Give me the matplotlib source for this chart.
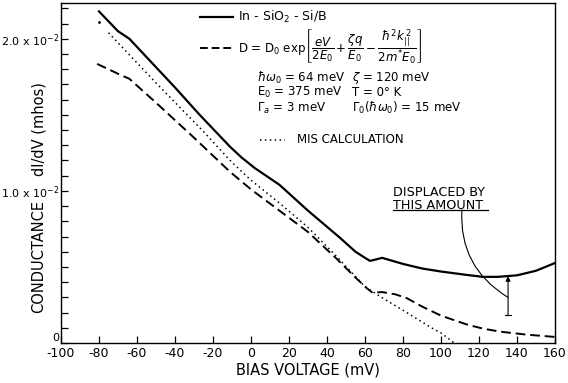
import matplotlib
matplotlib.use("Agg")
import matplotlib.pyplot as plt
from matplotlib.ticker import MultipleLocator

# ---- data (conductance in units of 1e-2 mhos) ----
v_meas = [-80, -75, -70, -64, -55, -40, -27, -11, -5, 2, 15, 30, 47, 55, 60, 62.6, 66, 69,
          80, 90, 100, 114, 122, 130, 140, 150, 160]
g_meas = [2.18, 2.115, 2.05, 2.00, 1.88, 1.68, 1.50, 1.29, 1.22, 1.15, 1.04, 0.87, 0.69, 0.60,
          0.56, 0.54, 0.55, 0.56, 0.52, 0.49, 0.47, 0.447, 0.435, 0.435, 0.445, 0.475, 0.526]

v_model = [-81, -75, -70, -64, -50, -30, -11, 0, 15, 30, 45, 55, 61, 64, 69, 76, 82, 90, 100,
           114, 122, 131, 145, 160]
g_model = [1.835, 1.80, 1.77, 1.737, 1.58, 1.35, 1.125, 1.01, 0.87, 0.73, 0.555, 0.43, 0.36,
           0.33, 0.335, 0.32, 0.295, 0.24, 0.18, 0.12, 0.095, 0.075, 0.055, 0.04]

v_mis = [-75, -50, -25, -11, 0, 15, 30, 45, 60, 70, 82, 95, 100, 107]
g_mis = [2.04, 1.71, 1.39, 1.20, 1.07, 0.92, 0.76, 0.57, 0.37, 0.29, 0.20, 0.10, 0.066, 0.0]
v_mis_dot = [-80]
g_mis_dot = [2.11]

x_ticks = list(range(-100, 161, 20))
y_ticks = [0, 1.0, 2.0]
y_ticklabels = ['0', r'1.0 x 10$^{-2}$', r'2.0 x 10$^{-2}$']

plt.rcParams['font.family'] = ['DejaVu Sans']
plt.rcParams['mathtext.fontset'] = 'dejavusans'

fig = plt.figure(figsize=(5.68, 3.83), dpi=100)
ax = fig.add_axes([0.1074, 0.1044, 0.8697, 0.8876])

ax.plot(v_meas, g_meas, color='black', lw=1.6, solid_joinstyle='round')
ax.plot(v_model, g_model, color='black', lw=1.4, dashes=(5, 2.5))
ax.plot(v_mis, g_mis, color='black', lw=1.1, linestyle=(0, (1, 2.2)))
ax.plot(v_mis_dot, g_mis_dot, 'k.', ms=2)

ax.set_xlim(-100, 160)
ax.set_ylim(0, 2.235)
ax.set_xticks(x_ticks)
ax.set_xticklabels([str(t) for t in x_ticks], fontsize=9)
ax.set_yticks(y_ticks)
ax.set_yticklabels(y_ticklabels, fontsize=8)
ax.yaxis.set_minor_locator(MultipleLocator(0.1))
ax.tick_params(axis='both', which='both', direction='in', length=5, width=0.9,
               top=False, right=False)
ax.tick_params(axis='x', pad=3)
ax.tick_params(axis='y', pad=1)
for s in ax.spines.values():
    s.set_linewidth(1.0)

# lift the "0" label a bit so it sits above the x tick labels
ax.get_yticklabels()[0].set_verticalalignment('bottom')

ax.set_xlabel('BIAS VOLTAGE (mV)', fontsize=10.5, labelpad=2)
ax.text(-0.045, 0.63, 'dI/dV (mhos)', transform=ax.transAxes, rotation=90,
        ha='center', va='center', fontsize=10.5)
ax.text(-0.045, 0.255, 'CONDUCTANCE', transform=ax.transAxes, rotation=90,
        ha='center', va='center', fontsize=10.5)

# ---- legend block ----
fs = 8.5
ax.plot([-26.8, -9.5], [2.145, 2.145], color='black', lw=1.6)
ax.text(-7, 2.145, r'In - SiO$_2$ - Si/B', fontsize=9, va='center')
ax.plot([-26.8, -9.5], [1.94, 1.94], color='black', lw=1.4, dashes=(4, 2))
ax.text(-7, 1.94,
        r'D = D$_0$ exp$\left[\dfrac{eV}{2E_0}+\dfrac{\zeta q}{E_0}-\dfrac{\hbar^2 k_{||}^{\,2}}{2m^{*}E_0}\right]$',
        fontsize=8.5, va='center')
ax.text(3, 1.745, r'$\hbar\omega_0$ = 64 meV', fontsize=fs, va='center')
ax.text(53, 1.745, r'$\zeta$ = 120 meV', fontsize=fs, va='center')
ax.text(3, 1.645, r'E$_0$ = 375 meV', fontsize=fs, va='center')
ax.text(53, 1.645, r'T = 0° K', fontsize=fs, va='center')
ax.text(3, 1.545, r'$\Gamma_a$ = 3 meV', fontsize=fs, va='center')
ax.text(53, 1.545, r'$\Gamma_0(\hbar\omega_0)$ = 15 meV', fontsize=fs, va='center')
ax.plot([5, 18], [1.335, 1.335], color='black', lw=1.1, linestyle=(0, (1, 2.2)))
ax.text(24, 1.335, 'MIS CALCULATION', fontsize=fs, va='center')

# ---- annotation ----
ax.text(75, 0.95, 'DISPLACED BY\nTHIS AMOUNT', fontsize=9.2, ha='left', va='center',
        linespacing=1.0)
ax.plot([74.7, 124.7], [0.875, 0.875], color='black', lw=0.9)
ax.annotate('', xy=(135.3, 0.30), xytext=(111, 0.875),
            arrowprops=dict(arrowstyle='-', lw=0.8, color='black',
                            connectionstyle='arc3,rad=0.3', shrinkA=0, shrinkB=0))
ax.annotate('', xy=(135.3, 0.44), xytext=(135.3, 0.185),
            arrowprops=dict(arrowstyle='-|>', lw=0.8, color='black',
                            mutation_scale=7, shrinkA=0, shrinkB=0))
ax.plot([133.8, 136.8], [0.185, 0.185], color='black', lw=0.8)

fig.savefig('out.png', dpi=100)
